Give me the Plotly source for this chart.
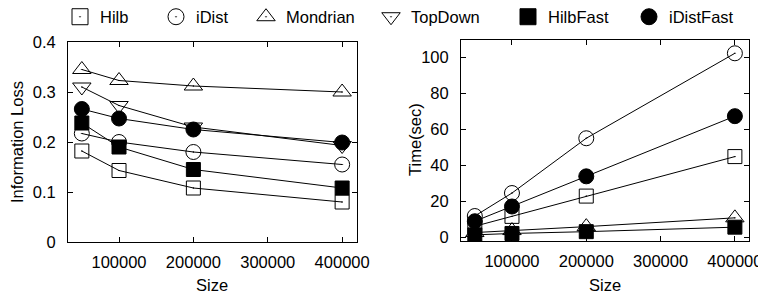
import plotly.graph_objects as go

sizes = [50000, 100000, 200000, 400000]
series_names = ["Hilb", "iDist", "Mondrian", "TopDown", "HilbFast", "iDistFast"]

# Information loss
loss_hilb = [0.182, 0.143, 0.108, 0.080]
loss_idist = [0.217, 0.200, 0.180, 0.155]
loss_mondrian = [0.345, 0.323, 0.312, 0.300]
loss_topdown = [0.310, 0.273, 0.230, 0.193]
loss_hilbfast = [0.238, 0.190, 0.145, 0.108]
loss_idistfast = [0.266, 0.247, 0.225, 0.199]

# Time (sec)
time_hilb = [6.0, 11.5, 22.8, 44.8]
time_idist = [11.7, 24.5, 55.0, 102.3]
time_mondrian = [2.5, 3.6, 5.8, 10.7]
time_hilbfast = [1.2, 2.0, 3.0, 5.5]
time_idistfast = [8.8, 17.0, 33.8, 67.3]

x_ticks = [100000, 200000, 300000, 400000]
x_ticktext = ["100000", "200000", "300000", "400000"]
loss_ticks = [0, 0.1, 0.2, 0.3, 0.4]
loss_ticktext = ["0", "0.1", "0.2", "0.3", "0.4"]
time_ticks = [0, 20, 40, 60, 80, 100]
time_ticktext = ["0", "20", "40", "60", "80", "100"]

symbols = {
    "Hilb": ("square-open-dot", 14),
    "iDist": ("circle-open-dot", 15),
    "Mondrian": ("triangle-up-open-dot", 16),
    "TopDown": ("triangle-down-open-dot", 16),
    "HilbFast": ("square", 14),
    "iDistFast": ("circle", 15),
}

# the page places the figure 8px in from the top-left corner; compensate
OFF = 8
W, H = 766 - OFF, 297 - OFF


def px(X):
    return (X - OFF) / W


def py(Y):
    return (H - (Y - OFF)) / H


FONT = "Liberation Sans, Arial, Helvetica, sans-serif"
FS = 16.5
fig = go.Figure()

loss_data = {"Hilb": loss_hilb, "iDist": loss_idist, "Mondrian": loss_mondrian,
             "TopDown": loss_topdown, "HilbFast": loss_hilbfast, "iDistFast": loss_idistfast}
time_data = {"Hilb": time_hilb, "iDist": time_idist, "Mondrian": time_mondrian,
             "HilbFast": time_hilbfast, "iDistFast": time_idistfast}

for name in series_names:
    sym, sz = symbols[name]
    fig.add_trace(go.Scatter(
        x=sizes, y=loss_data[name], mode="lines+markers", name=name, showlegend=False,
        line=dict(color="black", width=1),
        marker=dict(symbol=sym, size=sz, color="black", line=dict(color="black", width=1)),
        xaxis="x", yaxis="y"))

for name in series_names:
    if name not in time_data:
        continue
    sym, sz = symbols[name]
    fig.add_trace(go.Scatter(
        x=sizes, y=time_data[name], mode="lines+markers", name=name, showlegend=False,
        line=dict(color="black", width=1),
        marker=dict(symbol=sym, size=sz, color="black", line=dict(color="black", width=1)),
        xaxis="x2", yaxis="y2"))

# legend-only traces, one legend each so they can be placed individually
legend_marker_x = [80, 176, 266, 391, 528, 649]
legend_keys = ["legend", "legend2", "legend3", "legend4", "legend5", "legend6"]
legend_layouts = {}
for name, key, mx in zip(series_names, legend_keys, legend_marker_x):
    sym, sz = symbols[name]
    fig.add_trace(go.Scatter(
        x=[None], y=[None], mode="markers", name=name, showlegend=True, legend=key,
        marker=dict(symbol=sym, size=20, color="black", line=dict(color="black", width=1)),
        xaxis="x", yaxis="y"))
    legend_layouts[key] = dict(
        x=px(mx - 20), y=py(17), xanchor="left", yanchor="middle",
        font=dict(family=FONT, size=FS, color="black"), itemsizing="trace",
        bgcolor="rgba(0,0,0,0)", borderwidth=0)

axis_common = dict(
    showgrid=False, zeroline=False, showline=True, linecolor="black", linewidth=1,
    mirror="allticks", ticks="inside", ticklen=5, tickcolor="black",
    tickfont=dict(family=FONT, size=FS, color="black"), automargin=False)

title_font = dict(family=FONT, size=FS, color="black")

fig.update_layout(
    width=W, height=H,
    margin=dict(l=0, r=0, t=0, b=0, autoexpand=False),
    paper_bgcolor="white", plot_bgcolor="white",
    font=dict(family=FONT, color="black"),
    xaxis=dict(domain=[px(68), px(357)], range=[31400, 420000], ticklabelstandoff=5,
               tickvals=x_ticks, ticktext=x_ticktext, anchor="y", **axis_common),
    yaxis=dict(domain=[py(242), py(42)], range=[0, 0.4], ticklabelstandoff=8,
               tickvals=loss_ticks, ticktext=loss_ticktext, anchor="x", **axis_common),
    xaxis2=dict(domain=[px(461), px(749)], range=[31400, 419000], ticklabelstandoff=5,
                tickvals=x_ticks, ticktext=x_ticktext, anchor="y2", **axis_common),
    yaxis2=dict(domain=[py(241), py(40)], range=[-2.2, 109.7], ticklabelstandoff=8,
                tickvals=time_ticks, ticktext=time_ticktext, anchor="x2", **axis_common),
    showlegend=True,
    annotations=[
        dict(text="Information Loss", x=px(17), y=py(142), xref="paper", yref="paper",
             xanchor="center", yanchor="middle",
             showarrow=False, textangle=-90, font=title_font),
        dict(text="Time(sec)", x=px(415), y=py(140), xref="paper", yref="paper",
             xanchor="center", yanchor="middle",
             showarrow=False, textangle=-90, font=title_font),
        dict(text="Size", x=px(212), y=py(285), xref="paper", yref="paper",
             xanchor="center", yanchor="middle",
             showarrow=False, font=title_font),
        dict(text="Size", x=px(605), y=py(285), xref="paper", yref="paper",
             xanchor="center", yanchor="middle",
             showarrow=False, font=title_font),
    ],
    **legend_layouts,
)

fig.write_html("out.html")
